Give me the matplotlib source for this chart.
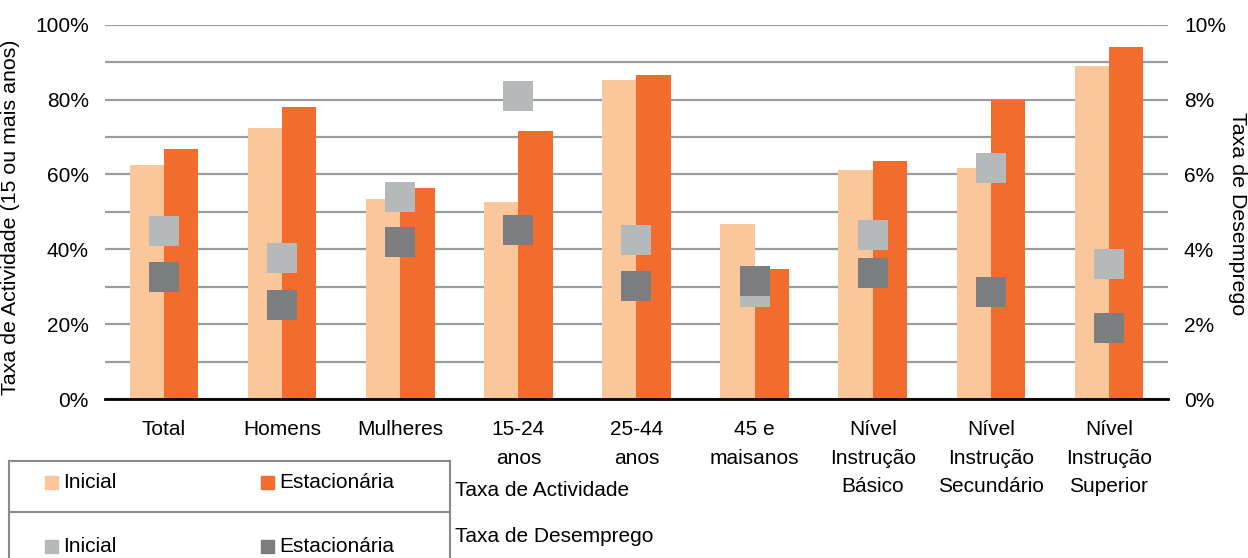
import matplotlib.pyplot as plt
import numpy as np
from matplotlib.lines import Line2D
from matplotlib.patches import Rectangle

categorias = ["Total", "Homens", "Mulheres", "15-24\nanos", "25-44\nanos", "45 e\nmaisanos",
              "Nível\nInstrução\nBásico", "Nível\nInstrução\nSecundário", "Nível\nInstrução\nSuperior"]
activ_inicial = [62.5, 72.4, 53.4, 52.6, 85.2, 46.7, 61.1, 61.7, 88.9]
activ_estac = [66.8, 78.0, 56.3, 71.6, 86.5, 34.7, 63.6, 79.9, 94.0]
desemp_inicial = [4.49, 3.77, 5.39, 8.09, 4.25, 2.86, 4.38, 6.17, 3.60]
desemp_estac = [3.26, 2.51, 4.19, 4.51, 3.02, 3.15, 3.36, 2.86, 1.90]

c_pessego = "#FAC79A"
c_laranja = "#F26C2E"
c_cinza_cl = "#B6B9BA"
c_cinza_esc = "#7B7D7F"

plt.rcParams["font.family"] = ["Liberation Sans", "DejaVu Sans"]

fig = plt.figure(figsize=(12.48, 5.58), dpi=100)
ax = fig.add_axes([0.0841, 0.2849, 0.8518, 0.6708])

x = np.arange(len(categorias))
w = 0.29
ax.bar(x - w / 2, activ_inicial, w, color=c_pessego, zorder=2)
ax.bar(x + w / 2, activ_estac, w, color=c_laranja, zorder=2)

ax.set_xlim(-0.5, len(categorias) - 0.5)
ax.set_ylim(0, 100)
ax.set_yticks(np.arange(0, 101, 20))
ax.set_yticklabels([f"{v}%" for v in range(0, 101, 20)], fontsize=15)
ax.set_yticks(np.arange(0, 101, 10), minor=True)
ax.grid(axis="y", which="both", color="#9b9ea1", lw=1.6)
ax.set_axisbelow(True)
ax.tick_params(axis="y", which="both", length=0, pad=11.5)
ax.tick_params(axis="x", length=0, pad=15)
ax.set_xticks(x)
ax.set_xticklabels(categorias, fontsize=15, linespacing=1.65, va="top")
for s in ["left", "right", "top"]:
    ax.spines[s].set_visible(False)
ax.spines["bottom"].set_color("black")
ax.spines["bottom"].set_linewidth(2)
ax.spines["bottom"].set_zorder(3)
ax.set_ylabel("Taxa de Actividade (15 ou mais anos)", fontsize=15.4)
ax.yaxis.set_label_coords(-0.080, 0.485)

ax2 = ax.twinx()
ax2.set_ylim(0, 10)
ax2.set_yticks(np.arange(0, 11, 2))
ax2.set_yticklabels([f"{v}%" for v in range(0, 11, 2)], fontsize=15)
ax2.tick_params(axis="y", length=0, pad=11.5)
for s in ["left", "right", "top", "bottom"]:
    ax2.spines[s].set_visible(False)
ax2.plot(x, desemp_inicial, ls="none", marker="s", ms=21.6, mew=0, color=c_cinza_cl, zorder=3)
ax2.plot(x, desemp_estac, ls="none", marker="s", ms=21.6, mew=0, color=c_cinza_esc, zorder=4)

# legenda em forma de tabela
W, H = 1248, 558
def fx(px):
    return px / W
def fy(py):
    return 1 - py / H

fig.text(fx(1237), fy(214), "Taxa de Desemprego", fontsize=15.4, rotation=270,
         ha="center", va="center")

lc = "#8a8a8a"
fig.add_artist(Line2D([fx(9), fx(450)], [fy(461), fy(461)], color=lc, lw=1.5))
fig.add_artist(Line2D([fx(9), fx(450)], [fy(512), fy(512)], color=lc, lw=1.5))
fig.add_artist(Line2D([fx(9), fx(9)], [fy(461), 0], color=lc, lw=1.5))
fig.add_artist(Line2D([fx(450), fx(450)], [fy(461), 0], color=lc, lw=1.5))

linhas = [(482, c_pessego, c_laranja), (546, c_cinza_cl, c_cinza_esc)]
for yc, ci, ce in linhas:
    for x0, cor, txt in [(45, ci, "Inicial"), (261, ce, "Estacionária")]:
        fig.add_artist(Rectangle((fx(x0), fy(yc + 6.5)), fx(13), 13 / H, color=cor, transform=fig.transFigure))
        fig.text(fx(x0 + 18), fy(yc), txt, fontsize=15, va="center", ha="left")

fig.text(fx(455), fy(490), "Taxa de Actividade", fontsize=15, va="center", ha="left")
fig.text(fx(455), fy(537), "Taxa de Desemprego", fontsize=15, va="center", ha="left")

fig.savefig("out.png", dpi=100)
